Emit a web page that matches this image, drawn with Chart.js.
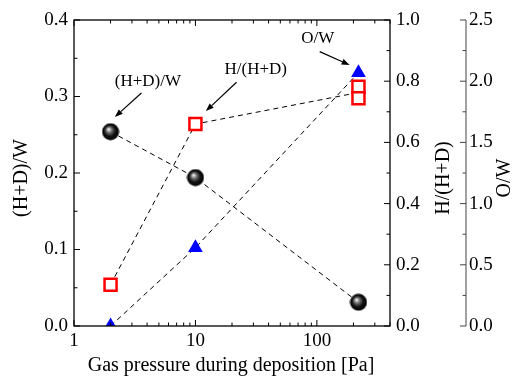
<!DOCTYPE html>
<html>
<head>
<meta charset="utf-8">
<script src="https://cdn.jsdelivr.net/npm/chart.js@4.4.1/dist/chart.umd.min.js"></script>
<style>
    body { margin: 0; background: #fff; }
    #wrap { width: 515px; height: 385px; }
</style>
</head>
<body>
<div id="wrap"><canvas id="chart" width="515" height="385"></canvas></div>
<script>
// --- veriler ---
const pressure = [2, 10, 220];
const hdPerW = [0.254, 0.194, 0.031];
const hRatioPressure = [2, 10, 220, 220];
const hRatio = [0.135, 0.66, 0.782, 0.744];
const hRatioTrend = [0.135, 0.66, 0.763];
const oPerW = [0, 0.64, 2.07];
const xTickLabels = [1, 10, 100];
const hdTicks = [0, 0.1, 0.2, 0.3, 0.4];
const hRatioTicks = [0, 0.2, 0.4, 0.6, 0.8, 1.0];
const oTicks = [0, 0.5, 1.0, 1.5, 2.0, 2.5];

// etiketler + oklar (x ve sol y ekseni değerleriyle)
const notes = [
    { text: '(H+D)/W', x: 4.06, y: 0.320, from: [3.59, 0.3046], to: [2.17, 0.2732] },
    { text: 'H/(H+D)', x: 31.4, y: 0.3346, from: [21.8, 0.3186], to: [12.18, 0.281] },
    { text: 'O/W', x: 101.5, y: 0.3752, from: [105.5, 0.3586], to: [186, 0.3412] }
];

const FONT = '"Liberation Serif", "Times New Roman", serif';

const pts = (xs, ys) => ys.map((v, i) => ({ x: xs[i], y: v }));

// gölgeli siyah küre
const ball = document.createElement('canvas');
ball.width = 18; ball.height = 18;
(() => {
    const c = ball.getContext('2d');
    const g = c.createRadialGradient(7, 6.5, 0.5, 9, 9, 9);
    g.addColorStop(0, '#f0f0f0');
    g.addColorStop(0.25, '#777');
    g.addColorStop(0.6, '#111');
    g.addColorStop(1, '#000');
    c.fillStyle = g;
    c.beginPath();
    c.arc(9, 9, 8.5, 0, Math.PI * 2);
    c.fill();
})();

const dashed = (data, axis) => ({
    data: data,
    yAxisID: axis,
    showLine: true,
    borderColor: '#000',
    borderWidth: 1,
    borderDash: [5, 4],
    pointRadius: 0,
    order: 2
});

const fixWidth = (w) => (scale) => { scale.width = w; };

// çerçeve, içe dönük tikler, etiketler, başlıklar ve oklar
const decorPlugin = {
    id: 'decor',
    afterDatasetsDraw(chart) {
        const { ctx, chartArea: a, scales } = chart;
        const x = scales.x, y = scales.y, y2 = scales.y2, y3 = scales.y3;
        ctx.save();
        ctx.strokeStyle = '#000';
        ctx.lineWidth = 1.3;
        ctx.strokeRect(a.left, a.top, a.right - a.left, a.bottom - a.top);

        ctx.lineWidth = 1;
        const line = (x1, y1, x2, y2_) => {
            ctx.beginPath(); ctx.moveTo(x1, y1); ctx.lineTo(x2, y2_); ctx.stroke();
        };

        // x ekseni tikleri (alt + üst)
        for (let d = 1; d <= 100; d *= 10) {
            for (let m = 1; m <= 9; m++) {
                const v = d * m;
                if (v > 400) break;
                const px = x.getPixelForValue(v);
                const len = m === 1 ? 6 : 3.5;
                line(px, a.bottom, px, a.bottom - len);
                line(px, a.top, px, a.top + len);
            }
        }
        // sol eksen
        for (let v = 0; v <= 0.4001; v += 0.05) {
            const py = y.getPixelForValue(v);
            const major = Math.abs(v * 10 - Math.round(v * 10)) < 1e-6;
            line(a.left, py, a.left + (major ? 6 : 3.5), py);
        }
        // sağ eksen H/(H+D)
        for (let v = 0; v <= 1.0001; v += 0.1) {
            const py = y2.getPixelForValue(v);
            const major = Math.round(v * 10) % 2 === 0;
            line(a.right, py, a.right - (major ? 6 : 3.5), py);
        }
        // O/W ekseni
        ctx.strokeStyle = '#444';
        line(y3.left, a.top, y3.left, a.bottom);
        for (let v = 0; v <= 2.5001; v += 0.25) {
            const py = y3.getPixelForValue(v);
            const major = Math.round(v * 4) % 2 === 0;
            line(y3.left, py, y3.left - (major ? 6 : 3.5), py);
        }

        // tik etiketleri
        ctx.fillStyle = '#000';
        ctx.font = '19px ' + FONT;
        ctx.textBaseline = 'middle';
        ctx.textAlign = 'right';
        hdTicks.forEach(v => ctx.fillText(v.toFixed(1), a.left - 6, y.getPixelForValue(v)));
        ctx.textAlign = 'left';
        hRatioTicks.forEach(v => ctx.fillText(v.toFixed(1), a.right + 6, y2.getPixelForValue(v)));
        oTicks.forEach(v => ctx.fillText(v.toFixed(1), y3.left + 3, y3.getPixelForValue(v)));
        ctx.textAlign = 'center';
        xTickLabels.forEach(v => ctx.fillText(String(v), x.getPixelForValue(v), a.bottom + 15));

        // eksen başlıkları
        ctx.font = '20px ' + FONT;
        const midY = (a.top + a.bottom) / 2 + 5;
        const vtext = (t, px) => {
            ctx.save(); ctx.translate(px, midY); ctx.rotate(-Math.PI / 2);
            ctx.fillText(t, 0, 0); ctx.restore();
        };
        vtext('(H+D)/W', 22);
        vtext('H/(H+D)', y2.right - 22);
        vtext('O/W', y3.right - 10);
        ctx.fillText('Gas pressure during deposition [Pa]', 231, 366);

        // notlar
        ctx.font = '17px ' + FONT;
        ctx.strokeStyle = '#000';
        notes.forEach(n => {
            ctx.fillText(n.text, x.getPixelForValue(n.x), y.getPixelForValue(n.y));
            const x1 = x.getPixelForValue(n.from[0]), y1 = y.getPixelForValue(n.from[1]);
            const x2 = x.getPixelForValue(n.to[0]), y2p = y.getPixelForValue(n.to[1]);
            const ang = Math.atan2(y2p - y1, x2 - x1);
            const hl = 8, hw = 3;
            const bx = x2 - hl * Math.cos(ang), by = y2p - hl * Math.sin(ang);
            ctx.lineWidth = 1.2;
            line(x1, y1, bx, by);
            ctx.beginPath();
            ctx.moveTo(x2, y2p);
            ctx.lineTo(bx + hw * Math.sin(ang), by - hw * Math.cos(ang));
            ctx.lineTo(bx - hw * Math.sin(ang), by + hw * Math.cos(ang));
            ctx.closePath();
            ctx.fill();
        });
        ctx.restore();
    }
};

const hiddenAxis = (extra) => Object.assign({
    grid: { display: false, drawTicks: false },
    border: { display: false },
    ticks: { display: false }
}, extra);

new Chart(document.getElementById('chart'), {
    type: 'scatter',
    data: {
        datasets: [
            dashed(pts(pressure, hdPerW), 'y'),
            dashed(pts(pressure, hRatioTrend), 'y2'),
            dashed(pts(pressure, oPerW), 'y3'),
            {
                data: pts(pressure, hdPerW),
                yAxisID: 'y',
                pointStyle: ball,
                order: 1
            },
            {
                data: pts(hRatioPressure, hRatio),
                yAxisID: 'y2',
                pointStyle: 'rect',
                pointRadius: 8.5,
                pointBorderWidth: 2.5,
                pointBorderColor: '#ff0000',
                pointBackgroundColor: '#ffffff',
                order: 1
            },
            {
                data: pts(pressure, oPerW),
                yAxisID: 'y3',
                pointStyle: 'triangle',
                pointRadius: 8.5,
                pointBorderWidth: 0,
                pointBackgroundColor: '#0000ff',
                pointBorderColor: '#0000ff',
                order: 1
            }
        ]
    },
    options: {
        responsive: false,
        animation: false,
        layout: { padding: { top: 20, left: 0, right: 0, bottom: 0 } },
        plugins: { legend: { display: false }, tooltip: { enabled: false } },
        scales: {
            x: hiddenAxis({ type: 'logarithmic', min: 1, max: 400,
                            afterFit: (s) => { s.height = 59; } }),
            y: hiddenAxis({ position: 'left', min: 0, max: 0.4, afterFit: fixWidth(74) }),
            y2: hiddenAxis({ position: 'right', min: 0, max: 1, afterFit: fixWidth(76) }),
            y3: hiddenAxis({ position: 'right', min: 0, max: 2.5, afterFit: fixWidth(49) })
        }
    },
    plugins: [decorPlugin]
});
</script>
</body>
</html>
